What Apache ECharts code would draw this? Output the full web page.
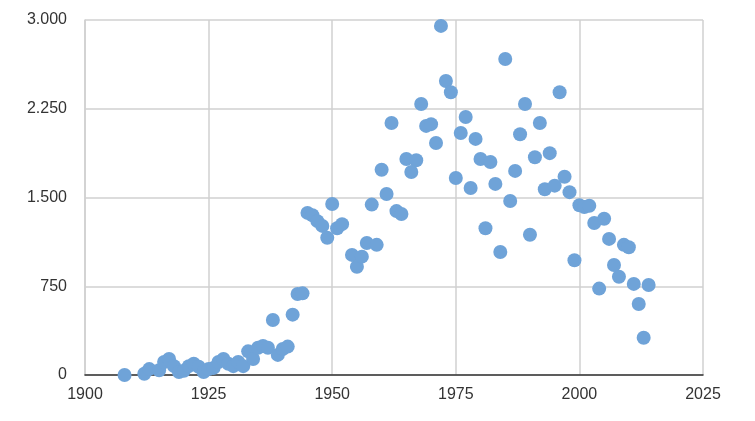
<!DOCTYPE html>
<html>
<head>
<meta charset="utf-8">
<script src="https://cdn.jsdelivr.net/npm/echarts@6/dist/echarts.min.js"></script>
<style>html,body{margin:0;padding:0;background:#fff}#main{width:755px;height:421px}</style>
</head>
<body>
<div id="main"></div>
<script>
const years = [1908,1912,1913,1915,1916,1917,1918,1919,1920,1921,1922,1923,1924,1925,1926,1927,1928,1929,1930,1931,1932,1933,1934,1935,1936,1937,1938,1939,1940,1941,1942,1943,1944,1945,1946,1947,1948,1949,1950,1951,1952,1954,1955,1956,1957,1958,1959,1960,1961,1962,1963,1964,1965,1966,1967,1968,1969,1970,1971,1972,1973,1974,1975,1976,1977,1978,1979,1980,1981,1982,1983,1984,1985,1986,1987,1988,1989,1990,1991,1992,1993,1994,1995,1996,1997,1998,1999,2000,2001,2002,2003,2004,2005,2006,2007,2008,2009,2010,2011,2012,2013,2014];
const values = [0,10,50,40,110,135,75,25,35,75,95,70,25,50,60,110,135,95,75,110,75,200,135,230,245,230,465,170,220,240,510,685,690,1370,1350,1300,1260,1160,1445,1240,1275,1015,915,1000,1115,1440,1100,1735,1530,2130,1385,1360,1825,1715,1815,2290,2105,2120,1960,2950,2485,2390,1665,2045,2180,1580,1995,1825,1240,1800,1615,1040,2670,1470,1725,2035,2290,1185,1840,2130,1570,1875,1600,2390,1675,1545,970,1435,1420,1430,1285,730,1320,1150,930,830,1100,1080,770,600,315,760];

const chart = echarts.init(document.getElementById('main'));
const fmt = v => String(v).replace(/\B(?=(\d{3})+(?!\d))/g, '.');
chart.setOption({
  animation: false,
  grid: {left: 85, right: 52, top: 20, bottom: 46},
  xAxis: {
    type: 'value', min: 1900, max: 2025, interval: 25,
    axisLine: {lineStyle: {color: '#333', width: 1.5}},
    axisTick: {show: false},
    axisLabel: {color: '#333', fontSize: 16, fontFamily: 'Arial, Liberation Sans', margin: 12, formatter: v => String(v)},
    splitLine: {lineStyle: {color: '#d0d0d0', width: 1.5}}
  },
  yAxis: {
    type: 'value', min: 0, max: 3000, interval: 750,
    axisLine: {show: true, lineStyle: {color: '#d0d0d0', width: 1.5}},
    axisTick: {show: false},
    axisLabel: {color: '#333', fontSize: 16, fontFamily: 'Arial, Liberation Sans', margin: 18, formatter: fmt},
    splitLine: {lineStyle: {color: '#d0d0d0', width: 1.5}}
  },
  series: [{
    type: 'scatter',
    symbolSize: 14,
    itemStyle: {color: '#6fa3d8', opacity: 1},
    data: years.map((y, i) => [y, values[i]])
  }]
});
</script>
</body>
</html>
